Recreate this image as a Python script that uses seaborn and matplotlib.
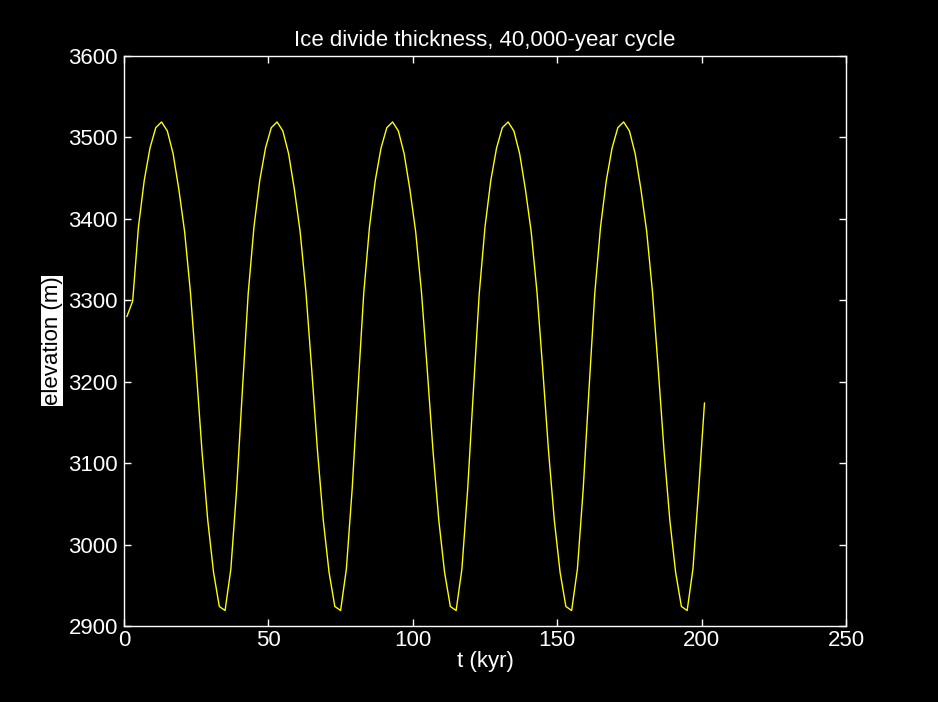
import numpy as np
import pandas as pd
import matplotlib
matplotlib.use("Agg")
import matplotlib.pyplot as plt
import seaborn as sns

# time (kyr), sampled every 2 kyr
t_kyr = list(range(1, 202, 2))

# ice divide elevation (m)
elevation = [
    3280, 3299, 3390, 3447, 3487, 3512, 3519, 3508, 3480, 3436,
    3384, 3310, 3215, 3115, 3030, 2966, 2924, 2919, 2970, 3068,
    3190, 3308, 3390, 3447, 3487, 3512, 3519, 3508, 3480, 3436,
    3384, 3310, 3215, 3115, 3030, 2966, 2924, 2919, 2970, 3068,
    3190, 3308, 3390, 3447, 3487, 3512, 3519, 3508, 3480, 3436,
    3384, 3310, 3215, 3115, 3030, 2966, 2924, 2919, 2970, 3068,
    3190, 3308, 3390, 3447, 3487, 3512, 3519, 3508, 3480, 3436,
    3384, 3310, 3215, 3115, 3030, 2966, 2924, 2919, 2970, 3068,
    3190, 3308, 3390, 3447, 3487, 3512, 3519, 3508, 3480, 3436,
    3384, 3310, 3215, 3115, 3030, 2966, 2924, 2919, 2970, 3068,
    3174,
]

x_ticks = [0, 50, 100, 150, 200, 250]
y_ticks = [2900, 3000, 3100, 3200, 3300, 3400, 3500, 3600]

title = "Ice divide thickness, 40,000-year cycle"
xlabel = "t (kyr)"
ylabel = "elevation (m)"

sns.set_style("dark")
plt.rcParams["font.family"] = ["Liberation Sans", "DejaVu Sans"]

df = pd.DataFrame({"t": t_kyr, "elev": elevation})

fig = plt.figure(figsize=(9.38, 7.02), dpi=100, facecolor="black")
ax = fig.add_axes([124 / 938, 1 - 626 / 702, (846 - 124) / 938, (626 - 56) / 702])
ax.set_facecolor("black")
ax.grid(False)

sns.lineplot(data=df, x="t", y="elev", ax=ax, color="#ffff00", linewidth=1.0)

ax.set_xlim(0, 250)
ax.set_ylim(2900, 3600)
ax.set_xticks(x_ticks)
ax.set_yticks(y_ticks)
ax.set_xticklabels([str(v) for v in x_ticks])
ax.set_yticklabels([str(v) for v in y_ticks])

for s in ax.spines.values():
    s.set_visible(True)
    s.set_color("white")
    s.set_linewidth(1.0)

ax.tick_params(axis="both", which="both", direction="in", length=5, width=1,
               colors="white", labelsize=16, top=True, right=True,
               bottom=True, left=True, labelcolor="white")
ax.tick_params(axis="y", pad=4.5)
ax.tick_params(axis="x", pad=3)

ax.set_title(title, color="white", fontsize=16, pad=7)
ax.set_xlabel(xlabel, color="black", fontsize=16, labelpad=0)
ax.xaxis.label.set_color("white")
ax.set_ylabel(ylabel, color="black", fontsize=16, labelpad=4,
              bbox=dict(facecolor="white", edgecolor="none", pad=0.3))

fig.savefig("out.png", dpi=100, facecolor="black")
